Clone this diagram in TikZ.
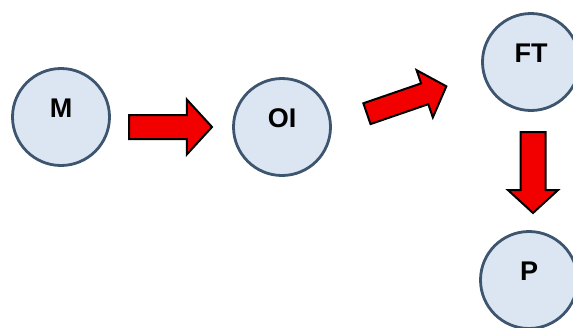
\documentclass[tikz,border=0pt]{standalone}
\usepackage{fontspec}
\setmainfont{Liberation Sans}
\usetikzlibrary{shapes.arrows}
\definecolor{cfill}{HTML}{DCE6F2}
\definecolor{cline}{HTML}{3E5570}
\definecolor{ared}{HTML}{F20000}
\tikzset{
  stage/.style={circle, draw=cline, fill=cfill, line width=2.8pt,
    minimum size=97pt, inner sep=0pt, text height=19.5pt, text depth=18pt,
    font=\fontsize{27}{27}\selectfont\bfseries},
  blockarrow/.style={single arrow, draw=black, fill=ared, line width=2pt,
    text height=0pt, text depth=0pt, inner xsep=0pt, anchor=tail,
    single arrow tip angle=95}
}
\begin{document}
\begin{tikzpicture}[x=1pt,y=-1pt]
\useasboundingbox (0,0) rectangle (573,327);
\clip (0,0) rectangle (573,327);
\node[stage] (m)  at (61,117)  {M};
\node[stage] (oi) at (282,127) {OI};
\node[stage] (ft) at (531,62)  {FT};
\node[stage] (p)  at (529,280) {P};
\node[blockarrow, minimum height=83pt, inner ysep=11pt,
      single arrow head extend=15.5pt] (a1) at (128,127) {};
\node[blockarrow, minimum height=84pt, inner ysep=10pt,
      single arrow head extend=14pt, rotate=19] (a2) at (366,114) {};
\node[blockarrow, minimum height=81pt, inner ysep=11.5pt,
      single arrow head extend=12.5pt, rotate=-90] (a3) at (533,131) {};
\end{tikzpicture}
\end{document}
